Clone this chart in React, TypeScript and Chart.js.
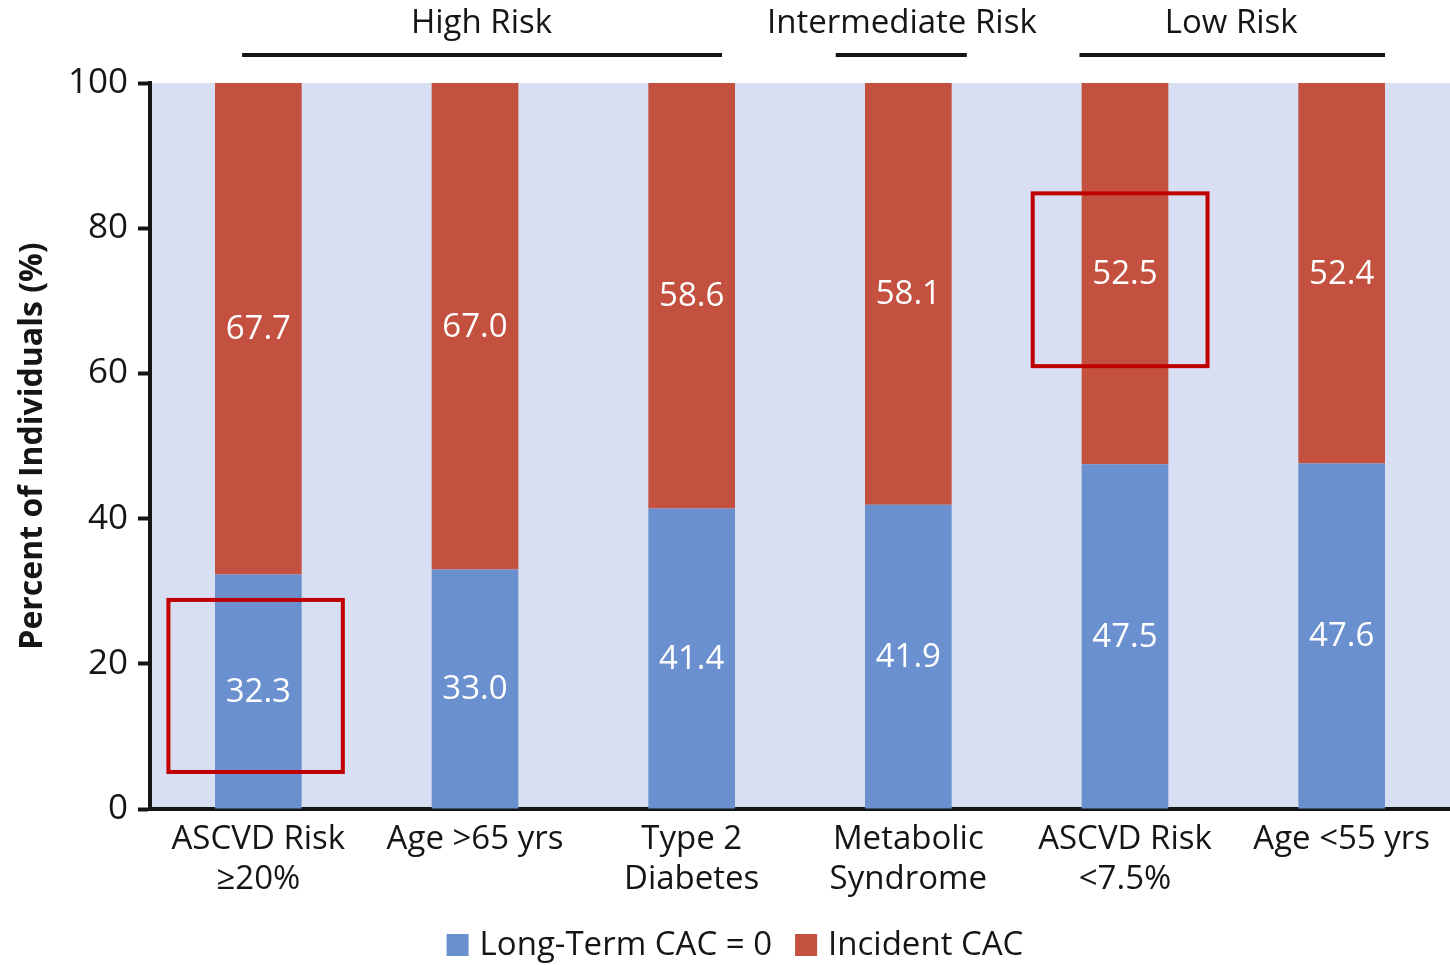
import React, { useEffect, useRef } from "react";
import { Chart, registerables } from "chart.js";

Chart.register(...registerables);

// Categories (multi-line x labels)
const categories: string[][] = [
  ["ASCVD Risk", "≥20%"],
  ["Age >65 yrs"],
  ["Type 2", "Diabetes"],
  ["Metabolic", "Syndrome"],
  ["ASCVD Risk", "<7.5%"],
  ["Age <55 yrs"],
];

// Percent of individuals per outcome
const longTermZero = [32.3, 33.0, 41.4, 41.9, 47.5, 47.6];
const incidentCac = [67.7, 67.0, 58.6, 58.1, 52.5, 52.4];

const seriesNames = ["Long-Term CAC = 0", "Incident CAC"];
const seriesColors = ["#6b90cf", "#c45140"];

const yTicks = [0, 20, 40, 60, 80, 100];
const yTitle = "Percent of Individuals (%)";

// Risk-group headers above the plot, positioned in category units
const riskGroups = ["High Risk", "Intermediate Risk", "Low Risk"];
const riskLabelAt = [1.03, 2.97, 4.49];
const riskLineFrom = [-0.075, 2.665, 3.79];
const riskLineTo = [2.14, 3.27, 5.2];

// Highlight rectangles: [xFrom, xTo, yLow, yHigh] in category / value units
const highlights: number[][] = [
  [-0.415, 0.39, 5.1, 28.8],
  [3.574, 4.381, 61.0, 84.8],
];

const FONT = "'Open Sans', 'Noto Sans', sans-serif";
const INK = "#151515";

const plotBackground = {
  id: "plotBackground",
  beforeDraw(chart: any) {
    const { ctx, chartArea } = chart;
    ctx.save();
    ctx.fillStyle = "#d9dff2";
    ctx.fillRect(chartArea.left, chartArea.top, chartArea.right - chartArea.left, chartArea.bottom - chartArea.top);
    ctx.restore();
  },
};

const valueLabels = {
  id: "valueLabels",
  afterDatasetsDraw(chart: any) {
    const { ctx } = chart;
    ctx.save();
    ctx.fillStyle = "#ffffff";
    ctx.font = `500 33px ${FONT}`;
    ctx.textAlign = "center";
    ctx.textBaseline = "middle";
    chart.data.datasets.forEach((ds: any, di: number) => {
      const meta = chart.getDatasetMeta(di);
      meta.data.forEach((el: any, i: number) => {
        const v = ds.data[i] as number;
        ctx.fillText(v.toFixed(1), el.x, (el.y + el.base) / 2 + 1);
      });
    });
    ctx.restore();
  },
};

const overlays = {
  id: "overlays",
  afterDraw(chart: any) {
    const { ctx, scales } = chart;
    const xs = scales.x;
    const ys = scales.y;
    ctx.save();
    // risk group headers
    ctx.fillStyle = INK;
    ctx.font = `500 33px ${FONT}`;
    ctx.textAlign = "center";
    ctx.textBaseline = "middle";
    riskGroups.forEach((name, i) => {
      ctx.fillText(name, xs.getPixelForValue(riskLabelAt[i]), 24);
      ctx.strokeStyle = INK;
      ctx.lineWidth = 4;
      ctx.beginPath();
      ctx.moveTo(xs.getPixelForValue(riskLineFrom[i]), 55);
      ctx.lineTo(xs.getPixelForValue(riskLineTo[i]), 55);
      ctx.stroke();
    });
    // highlight boxes
    ctx.strokeStyle = "#c00000";
    ctx.lineWidth = 4;
    highlights.forEach(([x0, x1, y0, y1]) => {
      const l = xs.getPixelForValue(x0);
      const r = xs.getPixelForValue(x1);
      const t = ys.getPixelForValue(y1);
      const b = ys.getPixelForValue(y0);
      ctx.strokeRect(l, t, r - l, b - t);
    });
    // legend
    ctx.font = `500 33px ${FONT}`;
    ctx.textAlign = "left";
    ctx.textBaseline = "middle";
    const box = 22;
    const gapBox = 11;
    const gapItem = 23;
    const widths = seriesNames.map((n) => ctx.measureText(n).width);
    const total = widths.reduce((a, w) => a + box + gapBox + w, 0) + gapItem * (seriesNames.length - 1);
    let x = 735 - total / 2;
    const cy = 945;
    seriesNames.forEach((n, i) => {
      ctx.fillStyle = seriesColors[i];
      ctx.fillRect(x, cy - box / 2, box, box);
      x += box + gapBox;
      ctx.fillStyle = INK;
      ctx.fillText(n, x, cy + 1);
      x += widths[i] + gapItem;
    });
    ctx.restore();
  },
};

export default function App() {
  const ref = useRef<HTMLCanvasElement | null>(null);

  useEffect(() => {
    if (!ref.current) return;
    const chart = new Chart(ref.current, {
      type: "bar",
      data: {
        labels: categories,
        datasets: [
          {
            label: seriesNames[0],
            data: longTermZero,
            backgroundColor: seriesColors[0],
            categoryPercentage: 1,
            barPercentage: 0.4,
          },
          {
            label: seriesNames[1],
            data: incidentCac,
            backgroundColor: seriesColors[1],
            categoryPercentage: 1,
            barPercentage: 0.4,
          },
        ],
      },
      options: {
        responsive: false,
        animation: false,
        layout: { padding: { top: 83, left: 0, right: 0, bottom: 0 } },
        plugins: {
          legend: { display: false },
          tooltip: { enabled: false },
        },
        scales: {
          x: {
            stacked: true,
            grid: { display: false, drawTicks: false },
            border: { display: true, color: INK, width: 4 },
            ticks: {
              color: INK,
              font: { family: FONT, size: 33, weight: "500" },
              padding: 11,
              maxRotation: 0,
              autoSkip: false,
            },
            afterFit(scale: any) {
              scale.height = 156;
            },
          },
          y: {
            stacked: true,
            min: 0,
            max: 100,
            afterBuildTicks(scale: any) {
              scale.ticks = yTicks.map((v) => ({ value: v }));
            },
            grid: {
              drawOnChartArea: false,
              drawTicks: true,
              tickLength: 12,
              tickWidth: 4,
              tickColor: INK,
            },
            border: { display: true, color: INK, width: 4 },
            ticks: {
              color: INK,
              font: { family: FONT, size: 35, weight: "500" },
              padding: 10,
            },
            title: {
              display: true,
              text: yTitle,
              color: INK,
              font: { family: FONT, size: 32, weight: "bold" },
              padding: { top: 14, bottom: 0 },
            },
            afterFit(scale: any) {
              scale.width = 150;
            },
          },
        },
      },
      plugins: [plotBackground, valueLabels, overlays],
    });
    return () => chart.destroy();
  }, []);

  return (
    <div style={{ position: "absolute", left: 0, top: 0, width: 1450, height: 965, background: "#fff" }}>
      <canvas ref={ref} width={1450} height={965} style={{ width: 1450, height: 965 }} />
    </div>
  );
}
